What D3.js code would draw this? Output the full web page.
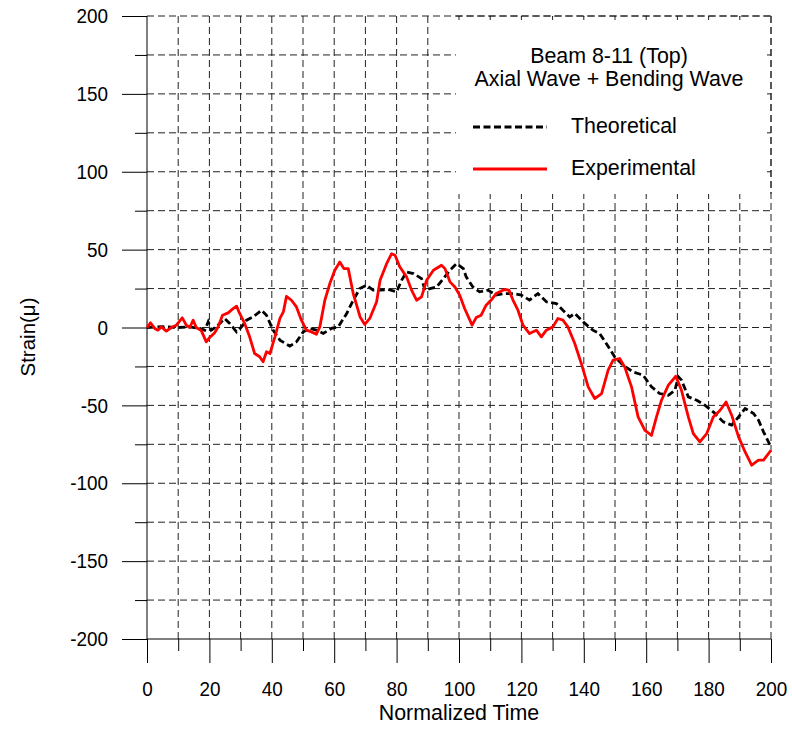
<!DOCTYPE html>
<html>
<head>
<meta charset="utf-8">
<script src="https://cdn.jsdelivr.net/npm/d3@7"></script>
<style>
  body { margin: 0; background: #fff; }
  text { font-family: "Liberation Sans", Arial, sans-serif; fill: #000; }
</style>
</head>
<body>
<div id="chart"></div>
<script>
// values
let xTicks = [0, 20, 40, 60, 80, 100, 120, 140, 160, 180, 200];
let yTicks = [-200, -150, -100, -50, 0, 50, 100, 150, 200];
let xGrid = d3.range(10, 201, 10);
let yGrid = d3.range(-175, 201, 25);

let titleLines = ["Beam 8-11 (Top)", "Axial Wave + Bending Wave"];
let seriesNames = ["Theoretical", "Experimental"];

let theoretical = [
  [0, 0], [5, 0.5], [10, 0], [13.7, 0.4], [16.9, -0.6], [18.5, -1.7], [19.6, 3.6], [20.6, -1.7],
  [22.2, 0.4], [24.9, 5.8], [26.5, 2.6], [28.7, -2.8], [30.3, 0.4], [31.9, 4.7], [34, 6.8],
  [36.7, 11.1], [38.3, 7.9], [40.4, -1.7], [42.6, -8.1], [45.8, -12], [47.9, -9.2], [50.1, -2.8],
  [52.2, -0.6], [54.3, -1.7], [56.5, -3.8], [59.1, -0.6], [61.3, 0.4], [64, 9], [66.1, 17.5],
  [68.2, 25], [70.4, 27.1], [72.5, 24], [74.7, 24], [77.3, 24.4], [80, 22.9], [81.6, 30.3],
  [83.2, 35.7], [85.4, 34.6], [88, 31.4], [89.1, 24], [90.7, 25], [92.8, 26], [95, 31.4],
  [97.1, 36.8], [99.2, 41], [101.4, 37.8], [102.3, 32.5], [104.4, 26.1], [106.6, 22.9],
  [109.3, 24], [111.9, 20.8], [114.6, 21.8], [117.3, 21.8], [120, 20.8], [122.6, 17.6],
  [125.3, 21.8], [128, 16.5], [131.2, 15.4], [133.3, 11.1], [135.5, 6.8], [137.1, 9],
  [139.8, 3.6], [142.9, -1.7], [145.1, -3.9], [147.2, -10.3], [149.9, -18.8], [152.6, -24.2],
  [155.8, -28.5], [159, -30.6], [161.7, -38.1], [164.3, -42.4], [167.1, -43.5], [169.2, -40.3],
  [170.3, -31.7], [171.3, -33.8], [173.5, -44.5], [176.2, -46.7], [178.8, -49.9], [181.5, -54.2],
  [184.7, -60.6], [187.4, -62.7], [189.6, -57.4], [191.7, -52], [194.4, -55.2], [196, -59.5],
  [197.6, -67], [200, -76.7]
];

let experimental = [
  [0, 0], [1.1, 3], [2.5, -0.6], [3.5, -1.7], [4.6, 0.4], [6.2, -2.3], [7.8, 0], [9.4, 1.5],
  [11.3, 6.2], [12.6, 1.5], [13.7, 0], [14.8, 4.7], [15.8, 0], [17.4, -2], [19, -9.2],
  [20.1, -6.4], [21.7, -3.4], [22.8, 0.4], [24.2, 7.9], [26, 9.4], [27.4, 11.8], [28.7, 13.7],
  [29.7, 9], [31.3, 2.6], [32.9, -6], [34.5, -16.7], [36.1, -18.8], [37.2, -22], [38.3, -15.6],
  [39.4, -16.7], [41, -6], [42.6, 5.8], [43.7, 10], [44.7, 20], [46.3, 17.5], [47.9, 13.2],
  [49.5, 4.7], [51.1, -1.7], [52.7, -2.8], [54.3, -4.3], [55.4, 0.4], [57, 17.5], [58.6, 28.2],
  [60.2, 36.8], [61.8, 42], [63.1, 37.8], [64.5, 37.8], [66.1, 21.8], [68.3, 6.8], [69.8, 2],
  [71.4, 5.8], [73.6, 16.5], [74.7, 30.3], [76.8, 41], [78.4, 47.4], [79.5, 46.4], [81, 39],
  [83.2, 32.5], [84.8, 24], [86.4, 17.5], [88, 19.7], [89.6, 30.3], [91.8, 36.8], [94.4, 40],
  [95.5, 37.8], [97.1, 29.3], [98.7, 26], [100.2, 20.8], [101.8, 12.2], [104.2, 1.5],
  [105.5, 6.4], [107.1, 7.9], [108.7, 14.3], [110.3, 17.6], [111.9, 21.8], [114.6, 24.4],
  [116, 24], [117.3, 17.6], [118.9, 11.1], [120.5, 1.5], [122.6, -3.9], [124.8, -1.7],
  [126.4, -6], [128, -1.7], [130.1, 0.4], [131.7, 5.8], [133.3, 4.7], [134.9, 0.4],
  [137.1, -10.3], [139.2, -23.1], [141.4, -38.1], [143.5, -45.6], [145.7, -42.4], [147.8, -27.4],
  [149.4, -21], [151.5, -19.9], [153.1, -25.3], [155.3, -38.1], [157.4, -57.4], [159.6, -66],
  [161.7, -69.2], [163.3, -57.4], [164.9, -46.7], [167.1, -37], [169.5, -31.3], [171.3, -40.3],
  [173.5, -57.4], [175.1, -68.1], [177.2, -73.4], [179.4, -68.1], [181.5, -57.4], [183.7, -53.1],
  [185.6, -47.8], [187.4, -56.3], [189.6, -70.2], [191.7, -79.9], [193.8, -88.4], [196, -85.2],
  [197.6, -85.2], [200, -78.8]
];

let width = 792, height = 729;
let plotL = 147, plotR = 771, plotT = 16, plotB = 639;
let squeeze = 0.9;   // tick labels in the original are narrow and tall

let svg = d3.select("#chart").append("svg")
    .attr("width", width)
    .attr("height", height);

let x = d3.scaleLinear().domain([0, 200]).range([plotL, plotR]);
let y = d3.scaleLinear().domain([-200, 200]).range([plotB, plotT]);

// dashed grid
svg.selectAll()
    .data(xGrid)
    .enter()
    .append("line")
    .attr("x1", d => x(d)).attr("x2", d => x(d))
    .attr("y1", plotT).attr("y2", plotB)
    .style("stroke", "#222")
    .style("stroke-width", 1)
    .style("stroke-dasharray", "7,4");

svg.selectAll()
    .data(yGrid)
    .enter()
    .append("line")
    .attr("x1", plotL).attr("x2", plotR)
    .attr("y1", d => y(d)).attr("y2", d => y(d))
    .style("stroke", "#222")
    .style("stroke-width", 1)
    .style("stroke-dasharray", "7,4");

// axes, ticks outside; plain hyphen for negatives like the original
let plain = d => String(d);
let xAxis = d3.axisBottom(x).tickValues(xTicks).tickSize(24).tickPadding(18).tickFormat(plain);
let xMinor = d3.axisBottom(x).tickValues(d3.range(10, 200, 20)).tickSize(12).tickFormat("");
let yAxis = d3.axisLeft(y).tickValues(yTicks).tickSize(25).tickPadding(14).tickFormat(plain);
let yMinor = d3.axisLeft(y).tickValues(d3.range(-175, 200, 50)).tickSize(12).tickFormat("");

[xAxis, xMinor].forEach(a => {
  svg.append("g")
    .attr("transform", "translate(0," + plotB + ")")
    .call(a)
    .call(g => g.select(".domain").remove())
    .call(g => g.selectAll("line").style("stroke", "#000"))
    .call(g => g.selectAll("text")
        .style("font-size", "21px").attr("font-family", null).attr("fill", "#000")
        .attr("transform", "scale(" + squeeze + ",1)"));
});
[yAxis, yMinor].forEach(a => {
  svg.append("g")
    .attr("transform", "translate(" + plotL + ",0)")
    .call(a)
    .call(g => g.select(".domain").remove())
    .call(g => g.selectAll("line").style("stroke", "#000"))
    .call(g => g.selectAll("text")
        .style("font-size", "21px").attr("font-family", null).attr("fill", "#000")
        .attr("x", -39 / squeeze)
        .attr("transform", "scale(" + squeeze + ",1)"));
});

svg.append("line")
    .attr("x1", plotL).attr("x2", plotL).attr("y1", plotT).attr("y2", plotB)
    .style("stroke", "#000");
svg.append("line")
    .attr("x1", plotL).attr("x2", plotR).attr("y1", plotB).attr("y2", plotB)
    .style("stroke", "#000");

// curves
let line = d3.line().x(d => x(d[0])).y(d => y(d[1]));

svg.append("path")
    .datum(theoretical)
    .attr("d", line)
    .style("fill", "none")
    .style("stroke", "#000")
    .style("stroke-width", 2.8)
    .style("stroke-dasharray", "7,3.5");

svg.append("path")
    .datum(experimental)
    .attr("d", line)
    .style("fill", "none")
    .style("stroke", "#ff0000")
    .style("stroke-width", 2.8)
    .style("stroke-linejoin", "round");

// legend box over the grid
let box = {x0: 456, x1: plotR, y0: plotT, y1: 194};
svg.append("rect")
    .attr("x", box.x0).attr("y", box.y0 + 1)
    .attr("width", box.x1 - box.x0 - 1).attr("height", box.y1 - box.y0 - 1)
    .style("fill", "#fff");

svg.selectAll()
    .data(xGrid.filter(d => x(d) > box.x0 && d < 200))
    .enter()
    .append("line")
    .attr("x1", d => x(d)).attr("x2", d => x(d))
    .attr("y1", plotT).attr("y2", plotT + 4)
    .style("stroke", "#222");

svg.selectAll()
    .data(yGrid.filter(d => y(d) < box.y1 && d < 200))
    .enter()
    .append("line")
    .attr("x1", plotR - 4).attr("x2", plotR)
    .attr("y1", d => y(d)).attr("y2", d => y(d))
    .style("stroke", "#222");

svg.append("line")
    .attr("x1", plotR).attr("x2", plotR).attr("y1", plotT).attr("y2", box.y1)
    .style("stroke", "#222").style("stroke-dasharray", "7,4");
svg.append("line")
    .attr("x1", box.x0).attr("x2", plotR).attr("y1", plotT).attr("y2", plotT)
    .style("stroke", "#222").style("stroke-dasharray", "7,4");

svg.selectAll()
    .data(titleLines)
    .enter()
    .append("text")
    .attr("x", 609)
    .attr("y", (d, i) => 63 + i * 23)
    .attr("text-anchor", "middle")
    .style("font-size", "21.4px")
    .text(d => d);

let legendStyles = [
  {stroke: "#000", dash: "7,3.5"},
  {stroke: "#ff0000", dash: null}
];
seriesNames.forEach((name, i) => {
  let ly = 127 + i * 42;
  svg.append("line")
      .attr("x1", 473).attr("x2", 547)
      .attr("y1", ly).attr("y2", ly)
      .style("stroke", legendStyles[i].stroke)
      .style("stroke-width", 2.8)
      .style("stroke-dasharray", legendStyles[i].dash);
  svg.append("text")
      .attr("x", 571)
      .attr("y", ly + 6)
      .style("font-size", "21.4px")
      .text(name);
});

// axis titles
svg.append("text")
    .attr("x", 459).attr("y", 720)
    .attr("text-anchor", "middle")
    .style("font-size", "21.4px")
    .text("Normalized Time");

svg.append("text")
    .attr("transform", "translate(35,337) rotate(-90)")
    .attr("text-anchor", "middle")
    .style("font-size", "20.5px")
    .text("Strain(μ)");
</script>
</body>
</html>
